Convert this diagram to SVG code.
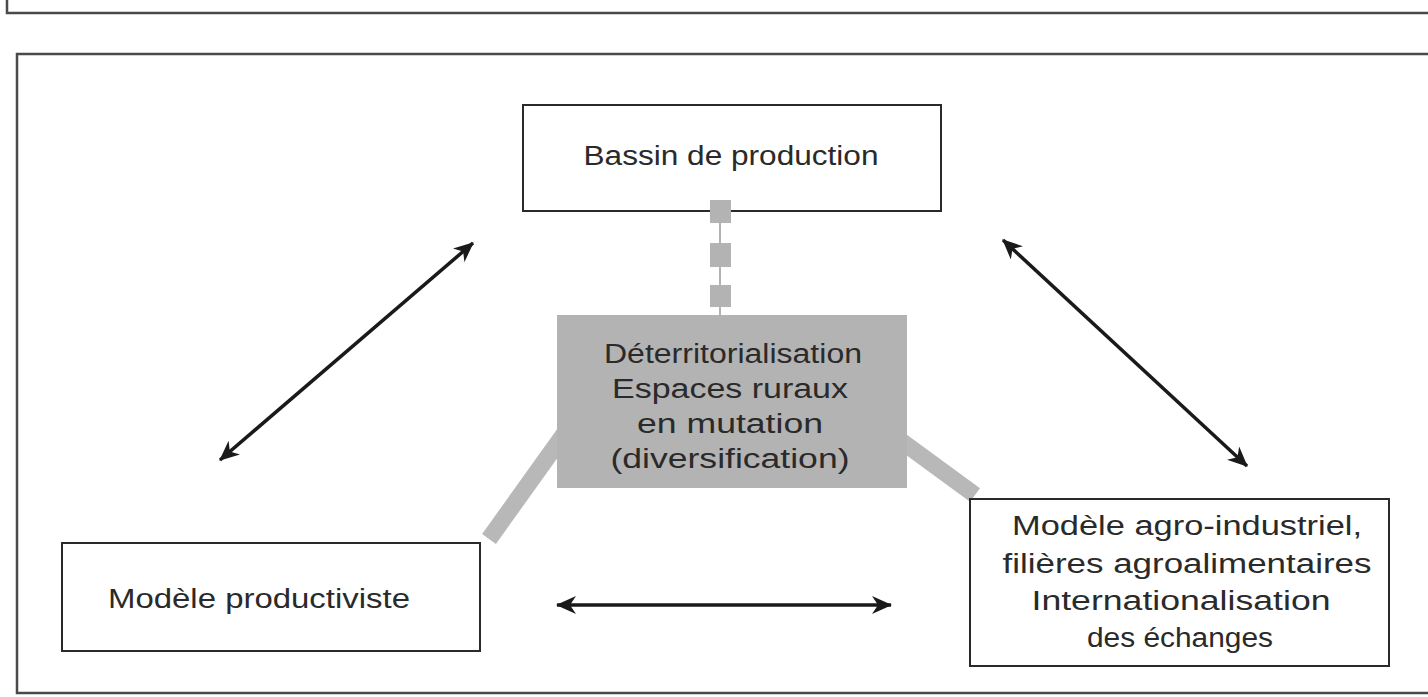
<svg xmlns="http://www.w3.org/2000/svg" width="1428" height="697" viewBox="0 0 1428 697">
<defs>
<style>
.frame{fill:none;stroke:#4a4a4a;stroke-width:2.5}
.box{fill:#fff;stroke:#2a2a2a;stroke-width:2}
.gbox{fill:#b3b3b3;stroke:none}
.t{font-family:"Liberation Sans",Arial,sans-serif;font-size:27px;fill:#2a2a2a;text-anchor:middle}
.arr{stroke:#1a1a1a;stroke-width:3.5;fill:none;marker-start:url(#ah);marker-end:url(#ah)}
.bar{stroke:#b8b8b8;stroke-width:17;fill:none}
.sq{fill:#b3b3b3}
</style>
<marker id="ah" viewBox="0 0 20 18" refX="19" refY="9" markerWidth="20" markerHeight="18" markerUnits="userSpaceOnUse" orient="auto-start-reverse">
<path d="M0,0 L20,9 L0,18 L6,9 z" fill="#1a1a1a"/>
</marker>
</defs>
<path class="frame" d="M7,0 V13 H1430"/>
<path class="frame" d="M1430,54 H17 V693 H1430"/>
<g id="bassin">
<rect class="box" x="523" y="105" width="418" height="106"/>
<text class="t" x="731" y="165" textLength="295" lengthAdjust="spacingAndGlyphs">Bassin de production</text>
</g>
<g id="connectors">
<line class="bar" x1="572" y1="423" x2="489" y2="539"/>
<line class="bar" x1="893" y1="435" x2="975" y2="495"/>
<line x1="720" y1="211" x2="720" y2="315" stroke="#9a9a9a" stroke-width="1.5"/>
<rect class="sq" x="710" y="200" width="21" height="23"/>
<rect class="sq" x="710" y="243" width="21" height="24"/>
<rect class="sq" x="710" y="285" width="21" height="22"/>
<line class="arr" x1="220" y1="460" x2="473" y2="243"/>
<line class="arr" x1="1003" y1="240" x2="1247" y2="466"/>
<line class="arr" x1="557" y1="605" x2="891" y2="605"/>
</g>
<g id="centre">
<rect class="gbox" x="557" y="315" width="350" height="173"/>
<text class="t" x="733" y="363" textLength="258" lengthAdjust="spacingAndGlyphs">Déterritorialisation</text>
<text class="t" x="730" y="398" textLength="236" lengthAdjust="spacingAndGlyphs">Espaces ruraux</text>
<text class="t" x="730" y="433" textLength="186" lengthAdjust="spacingAndGlyphs">en mutation</text>
<text class="t" x="730" y="468" textLength="239" lengthAdjust="spacingAndGlyphs">(diversification)</text>
</g>
<g id="productiviste">
<rect class="box" x="62" y="543" width="418" height="108"/>
<text class="t" x="259" y="608" textLength="302" lengthAdjust="spacingAndGlyphs">Modèle productiviste</text>
</g>
<g id="agro">
<rect class="box" x="970" y="499" width="419" height="167"/>
<text class="t" x="1187" y="535" textLength="350" lengthAdjust="spacingAndGlyphs">Modèle agro-industriel,</text>
<text class="t" x="1187" y="573" textLength="369" lengthAdjust="spacingAndGlyphs">filières agroalimentaires</text>
<text class="t" x="1181" y="610" textLength="299" lengthAdjust="spacingAndGlyphs">Internationalisation</text>
<text class="t" x="1180" y="647" textLength="186" lengthAdjust="spacingAndGlyphs">des échanges</text>
</g>
</svg>
